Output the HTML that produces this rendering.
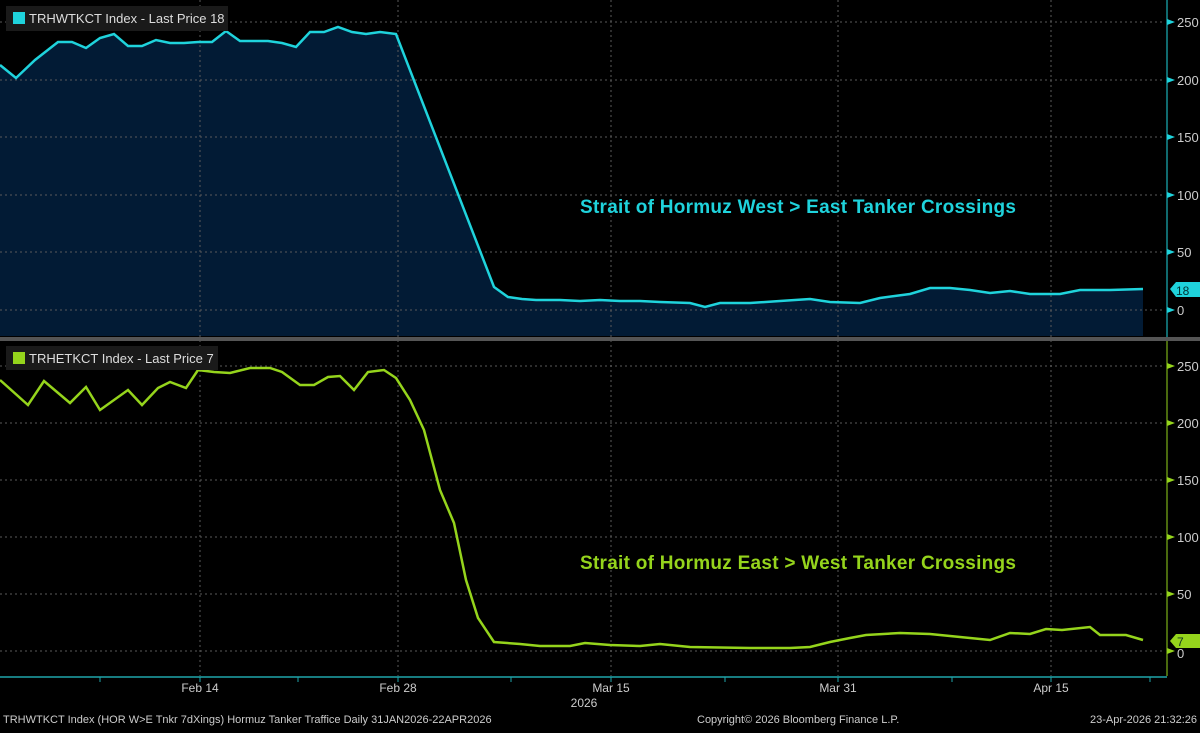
<!DOCTYPE html>
<html><head><style>
body{margin:0;background:#000;width:1200px;height:728px;overflow:hidden;font-family:"Liberation Sans",sans-serif}
</style></head><body>
<svg width="1200" height="728" viewBox="0 0 1200 728" xmlns="http://www.w3.org/2000/svg" font-family="Liberation Sans, sans-serif">
<rect width="1200" height="728" fill="#000"/>
<polygon fill="#021b35" points="0,65 16,78 35,60 58,42 72,42 86,48 100,38 114,34 128,46 142,46 156,40 170,43 184,43 198,42 212,42 226,31 240,41 254,41 268,41 282,43 296,47 310,32 324,32 338,27 352,32 366,34 380,32 396,34 494,287 508,297 522,299 536,300 560,300 580,301 600,300 620,301 640,301 660,302 690,303 705,307 720,303 750,303 780,301 810,299 830,302 860,303 880,298 910,294 930,288 950,288 970,290 990,293 1010,291 1030,294 1060,294 1080,290 1110,290 1143,289 1143,336 0,336"/>
<g stroke="#5a5a5a" stroke-width="1" stroke-dasharray="2,3">
<line x1="0" y1="22" x2="1165" y2="22"/><line x1="0" y1="80" x2="1165" y2="80"/><line x1="0" y1="137" x2="1165" y2="137"/><line x1="0" y1="195" x2="1165" y2="195"/><line x1="0" y1="252" x2="1165" y2="252"/><line x1="0" y1="310" x2="1165" y2="310"/>
<line x1="0" y1="366" x2="1165" y2="366"/><line x1="0" y1="423" x2="1165" y2="423"/><line x1="0" y1="480" x2="1165" y2="480"/><line x1="0" y1="537" x2="1165" y2="537"/><line x1="0" y1="594" x2="1165" y2="594"/><line x1="0" y1="651" x2="1165" y2="651"/>
<line x1="200" y1="0" x2="200" y2="676"/><line x1="398" y1="0" x2="398" y2="676"/><line x1="611" y1="0" x2="611" y2="676"/><line x1="838" y1="0" x2="838" y2="676"/><line x1="1051" y1="0" x2="1051" y2="676"/>
</g>
<polyline fill="none" stroke="#1fd3dc" stroke-width="2.5" points="0,65 16,78 35,60 58,42 72,42 86,48 100,38 114,34 128,46 142,46 156,40 170,43 184,43 198,42 212,42 226,31 240,41 254,41 268,41 282,43 296,47 310,32 324,32 338,27 352,32 366,34 380,32 396,34 494,287 508,297 522,299 536,300 560,300 580,301 600,300 620,301 640,301 660,302 690,303 705,307 720,303 750,303 780,301 810,299 830,302 860,303 880,298 910,294 930,288 950,288 970,290 990,293 1010,291 1030,294 1060,294 1080,290 1110,290 1143,289"/>
<polyline fill="none" stroke="#95d41c" stroke-width="2.5" points="0,380 28,405 44,381 70,403 86,387 100,410 128,390 142,405 158,388 170,382 186,388 198,370 214,372 230,373 250,368 270,368 282,372 300,385 314,385 328,377 340,376 354,390 368,372 384,370 396,378 410,400 424,430 440,490 454,523 466,580 478,618 494,642 520,644 540,646 570,646 585,643 610,645 640,646 660,644 690,647 750,648 790,648 810,647 830,642 850,638 866,635 900,633 930,634 960,637 990,640 1010,633 1030,634 1046,629 1062,630 1090,627 1100,635 1126,635 1143,640"/>
<rect x="0" y="337" width="1200" height="4" fill="#555"/>
<line x1="1167" y1="0" x2="1167" y2="337" stroke="#1fd3dc" stroke-width="1"/>
<line x1="1167" y1="341" x2="1167" y2="676" stroke="#95d41c" stroke-width="1"/>
<g fill="#1fd3dc"><polygon points="1167,19 1175,22 1167,25"/><polygon points="1167,77 1175,80 1167,83"/><polygon points="1167,134 1175,137 1167,140"/><polygon points="1167,192 1175,195 1167,198"/><polygon points="1167,249 1175,252 1167,255"/><polygon points="1167,307 1175,310 1167,313"/></g>
<g fill="#95d41c"><polygon points="1167,363 1175,366 1167,369"/><polygon points="1167,420 1175,423 1167,426"/><polygon points="1167,477 1175,480 1167,483"/><polygon points="1167,534 1175,537 1167,540"/><polygon points="1167,591 1175,594 1167,597"/><polygon points="1167,648 1175,651 1167,654"/></g>
<g fill="#ccc" font-size="13">
<text x="1177" y="27">250</text><text x="1177" y="85">200</text><text x="1177" y="142">150</text><text x="1177" y="200">100</text><text x="1177" y="257">50</text><text x="1177" y="315">0</text>
<text x="1177" y="371">250</text><text x="1177" y="428">200</text><text x="1177" y="485">150</text><text x="1177" y="542">100</text><text x="1177" y="599">50</text><text x="1177" y="658">0</text>
</g>
<polygon points="1170,289 1176,282 1200,282 1200,297 1176,297" fill="#1fd3dc"/>
<text x="1176" y="295" font-size="12" fill="#033">18</text>
<polygon points="1170,641 1176,634 1200,634 1200,648 1176,648" fill="#95d41c"/>
<text x="1177" y="646" font-size="12" fill="#132">7</text>
<line x1="0" y1="677" x2="1167" y2="677" stroke="#1fa5aa" stroke-width="1.5"/>
<g stroke="#1fa5aa"><line x1="100" y1="677" x2="100" y2="682"/><line x1="200" y1="677" x2="200" y2="682"/><line x1="298" y1="677" x2="298" y2="682"/><line x1="398" y1="677" x2="398" y2="682"/><line x1="511" y1="677" x2="511" y2="682"/><line x1="611" y1="677" x2="611" y2="682"/><line x1="725" y1="677" x2="725" y2="682"/><line x1="838" y1="677" x2="838" y2="682"/><line x1="952" y1="677" x2="952" y2="682"/><line x1="1051" y1="677" x2="1051" y2="682"/><line x1="1150" y1="677" x2="1150" y2="682"/></g>
<g fill="#ccc" font-size="12" text-anchor="middle">
<text x="200" y="692">Feb 14</text><text x="398" y="692">Feb 28</text><text x="611" y="692">Mar 15</text><text x="838" y="692">Mar 31</text><text x="1051" y="692">Apr 15</text><text x="584" y="707">2026</text>
</g>
<g fill="#ccc" font-size="11">
<text x="3" y="723">TRHWTKCT Index (HOR W&gt;E Tnkr 7dXings) Hormuz Tanker Traffice Daily 31JAN2026-22APR2026</text>
<text x="697" y="723">Copyright© 2026 Bloomberg Finance L.P.</text>
<text x="1197" y="723" text-anchor="end">23-Apr-2026 21:32:26</text>
</g>
<rect x="6" y="6" width="222" height="25" fill="#1a1a1a"/>
<rect x="13" y="12" width="12" height="12" fill="#1fd3dc"/>
<text x="29" y="23" font-size="13" fill="#ddd">TRHWTKCT Index - Last Price 18</text>
<rect x="6" y="346" width="212" height="24" fill="#1a1a1a"/>
<rect x="13" y="352" width="12" height="12" fill="#95d41c"/>
<text x="29" y="363" font-size="13" fill="#ddd">TRHETKCT Index - Last Price 7</text>
<text x="798" y="213" font-size="19" font-weight="bold" fill="#1fd3dc" text-anchor="middle" textLength="436">Strait of Hormuz West &gt; East Tanker Crossings</text>
<text x="798" y="569" font-size="19" font-weight="bold" fill="#95d41c" text-anchor="middle" textLength="436">Strait of Hormuz East &gt; West Tanker Crossings</text>
</svg>
</body></html>
